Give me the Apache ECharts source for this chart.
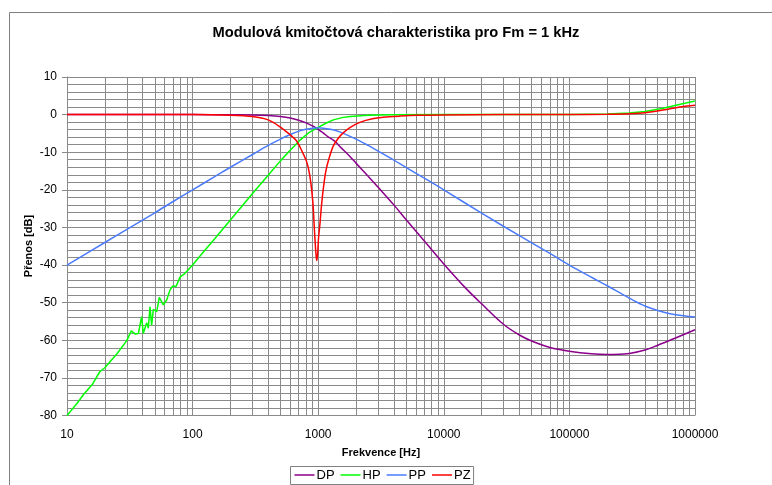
<!DOCTYPE html>
<html><head><meta charset="utf-8">
<script src="https://cdn.jsdelivr.net/npm/echarts@6/dist/echarts.min.js"></script>
<style>html,body{margin:0;padding:0;background:#fff}#c{width:772px;height:485px}</style>
</head><body><div id="c"></div>
<script>
const titleText = 'Modulová kmitočtová charakteristika pro Fm = 1 kHz';
const xName = 'Frekvence [Hz]';
const yName = 'Přenos [dB]';
const seriesNames = ['DP', 'HP', 'PP', 'PZ'];
const seriesColors = ['#8B008B', '#00FF00', '#4A7BFF', '#FF0000'];
const decades = [10, 100, 1000, 10000, 100000, 1000000];
const yTicks = [10, 0, -10, -20, -30, -40, -50, -60, -70, -80];

// DP (dolní propust)
const dpFreq = [10, 50, 100, 200, 300, 400, 500, 600, 700, 800, 900, 1000, 1100, 1200, 1360, 1500, 1750, 2000, 2500, 3000, 4000, 5000, 7000, 10000, 15000, 20000, 30000, 40000, 50000, 70000, 100000, 150000, 200000, 300000, 400000, 500000, 700000, 1000000];
const dpVal = [0, 0, 0, -0.05, -0.1, -0.25, -0.5, -0.9, -1.5, -2.2, -3.0, -3.9, -4.9, -5.9, -7.1, -8.6, -10.8, -12.9, -16.4, -19.3, -24, -27.9, -33.6, -39.7, -46.2, -50.3, -55.8, -58.6, -60.2, -61.9, -62.9, -63.6, -63.8, -63.5, -62.6, -61.4, -59.4, -57.2];

// HP (horní propust)
const hpFreq = [10, 12, 13.5, 16, 18.3, 20, 25, 29.9, 32.5, 34.8, 35.7, 37, 39.3, 40.5, 41.8, 43.1, 44.4, 45.8, 47.2, 48.7, 51.8, 54.3, 58.5, 62.2, 66.1, 69.4, 73.8, 79.4, 87, 100, 115, 150, 211, 300, 389, 500, 600, 716, 850, 1000, 1150, 1319, 1550, 1791, 2500, 4000, 10000, 100000, 200000, 300000, 400000, 557000, 780000, 1000000];
const hpVal = [-80, -76.8, -74.5, -71.6, -68.3, -67.3, -63.6, -60.1, -57.5, -58.3, -58.8, -58.2, -53.7, -58.2, -57.7, -55.3, -56.8, -51.1, -56, -51.8, -52.4, -48.6, -50.6, -49.3, -46.6, -45.6, -45.7, -43.2, -42.2, -40, -37.5, -33, -27.1, -21, -16.6, -12.3, -9.4, -6.8, -4.7, -3.4, -2.3, -1.4, -0.8, -0.5, -0.2, -0.05, 0, 0, 0.15, 0.4, 0.8, 1.7, 2.8, 3.6];

// PP (pásmová propust)
const ppFreq = [10, 20, 30, 50, 70, 100, 150, 200, 300, 400, 500, 600, 700, 800, 900, 1000, 1100, 1250, 1400, 1600, 2000, 2500, 3000, 4000, 5000, 7000, 10000, 20000, 40000, 70000, 100000, 155000, 200000, 300000, 400000, 556000, 700000, 1000000];
const ppVal = [-40, -34, -30.5, -26.1, -23.1, -20, -16.5, -14, -10.6, -8.2, -6.5, -5.3, -4.4, -3.9, -3.6, -3.5, -3.6, -3.9, -4.3, -5.05, -6.5, -8.2, -9.7, -12.1, -14.05, -16.9, -20, -26.2, -32.2, -36.9, -40, -43.5, -45.5, -48.8, -50.9, -52.5, -53.2, -53.8];

// PZ (pásmová zádrž)
const pzFreq = [10, 100, 200, 300, 400, 500, 580, 673, 750, 809, 850, 887, 910, 931, 950, 965, 975, 990, 1005, 1033, 1060, 1100, 1150, 1211, 1319, 1450, 1590, 1800, 2169, 2700, 3304, 4500, 6100, 10000, 30000, 100000, 200000, 300000, 400000, 557000, 780000, 1000000];
const pzVal = [0, 0, -0.15, -0.5, -1.4, -3.3, -5.0, -7.0, -10, -12.5, -15.5, -20, -24, -30, -35, -38, -38.8, -37, -33, -29, -24.5, -19.5, -15, -12, -8.3, -6.2, -4.8, -3.4, -2.0, -1.1, -0.7, -0.4, -0.2, -0.1, 0, 0, 0.1, 0.25, 0.5, 1.2, 2.1, 2.5];

// minor vertical gridlines (2..9 in each decade)
const minorGridFreq = [];
decades.slice(0, -1).forEach(d => { for (let k = 2; k <= 9; k++) minorGridFreq.push(d * k); });

const pair = (fs, vs) => fs.map((f, i) => [f, vs[i]]);
const FONT = '"Liberation Sans", Arial, sans-serif';
const GRID = '#8a8a8a';

const chart = echarts.init(document.getElementById('c'), null, { renderer: 'canvas' });
const mkSeries = (name, idx, fs, vs, smooth) => ({
  name, type: 'line', data: pair(fs, vs), symbol: 'none', showSymbol: false,
  smooth: smooth,
  lineStyle: { color: seriesColors[idx], width: 1.5 },
  itemStyle: { color: seriesColors[idx] },
  animation: false, z: 3
});

chart.setOption({
  animation: false,
  backgroundColor: '#fff',
  textStyle: { fontFamily: FONT },
  graphic: [
    { type: 'rect', shape: { x: 9.5, y: 12.5, width: 900, height: 600 }, style: { fill: 'none', stroke: '#808080', lineWidth: 1 }, z: 0, silent: true },
    { type: 'text', x: 396, y: 33, style: { text: titleText, textAlign: 'center', textVerticalAlign: 'middle', font: 'bold 14.7px ' + FONT, fill: '#000' }, z: 10 },
    { type: 'text', x: 29, y: 246, rotation: Math.PI / 2, style: { text: yName, textAlign: 'center', textVerticalAlign: 'middle', font: 'bold 11px ' + FONT, fill: '#000' }, z: 10 }
  ],
  legend: {
    data: seriesNames, left: 290.5, top: 466.5, orient: 'horizontal',
    icon: 'rect', itemWidth: 20, itemHeight: 1.5, itemGap: 6,
    padding: [2, 3, 3, 4],
    borderColor: '#808080', borderWidth: 1, backgroundColor: '#fff',
    textStyle: { fontSize: 13, color: '#000', fontFamily: FONT, padding: [0, 0, 0, -3] }
  },
  grid: { left: 67, right: 77, top: 77, bottom: 69.5, containLabel: false },
  xAxis: {
    type: 'log', logBase: 10, min: decades[0], max: decades[decades.length - 1],
    splitNumber: 5,
    name: xName, nameLocation: 'middle', nameGap: 32,
    nameTextStyle: { fontWeight: 'bold', fontSize: 11, color: '#000', fontFamily: FONT },
    axisLine: { show: true, lineStyle: { color: GRID, width: 1 } },
    axisTick: { show: false },
    axisLabel: { fontSize: 12, color: '#000', margin: 13, fontFamily: FONT, formatter: v => String(Math.round(v)) },
    splitLine: { show: true, lineStyle: { color: GRID, width: 1 } }
  },
  yAxis: {
    type: 'value', min: yTicks[yTicks.length - 1], max: yTicks[0], interval: 10,
    axisLine: { show: true, lineStyle: { color: GRID, width: 1 } },
    axisTick: { show: true, inside: false, length: 5, lineStyle: { color: GRID } },
    axisLabel: { fontSize: 12, color: '#000', margin: 10, fontFamily: FONT },
    splitLine: { show: true, lineStyle: { color: GRID, width: 1 } },
    minorTick: { show: false, splitNumber: 5 },
    minorSplitLine: { show: true, lineStyle: { color: GRID, width: 1 } }
  },
  series: [
    {
      name: '_grid', type: 'line', data: [], symbol: 'none', silent: true, z: 1,
      markLine: {
        silent: true, symbol: ['none', 'none'], z: 1, animation: false,
        label: { show: false },
        lineStyle: { color: GRID, width: 1, type: 'solid' },
        emphasis: { disabled: true },
        data: minorGridFreq.map(f => ({ xAxis: f }))
      }
    },
    mkSeries('DP', 0, dpFreq, dpVal, 0.35),
    mkSeries('HP', 1, hpFreq, hpVal, false),
    mkSeries('PP', 2, ppFreq, ppVal, 0.35),
    mkSeries('PZ', 3, pzFreq, pzVal, 0.3)
  ]
});
</script>
</body></html>
